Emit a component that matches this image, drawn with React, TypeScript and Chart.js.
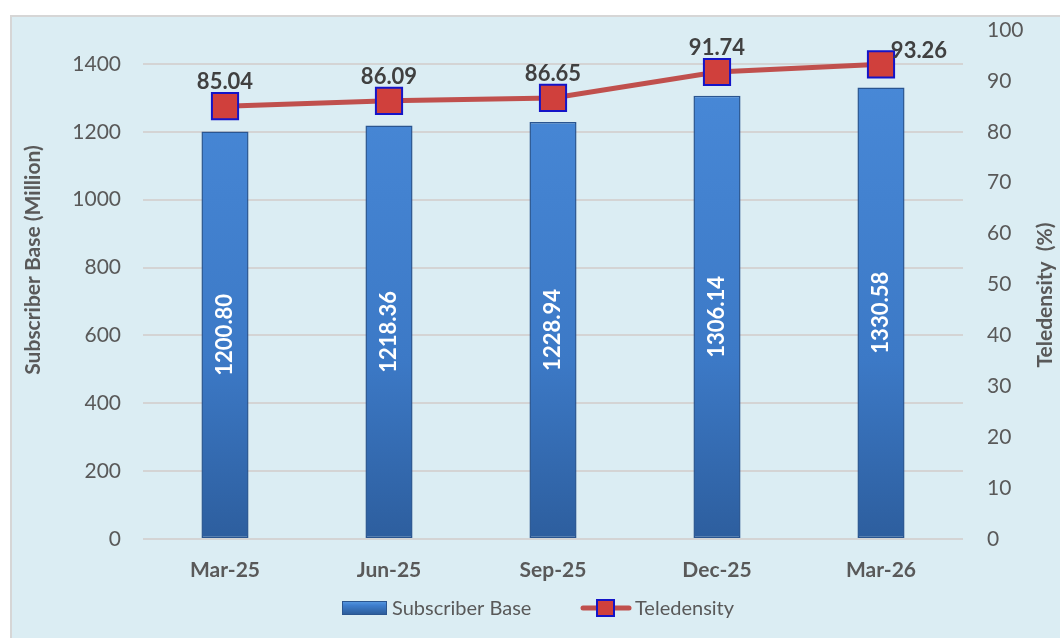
import React, { useEffect, useRef } from "react";
import { Chart, registerables } from "chart.js";

Chart.register(...registerables);

const categories = ["Mar-25", "Jun-25", "Sep-25", "Dec-25", "Mar-26"];
const subscriberBase = [1200.8, 1218.36, 1228.94, 1306.14, 1330.58];
const teledensity = [85.04, 86.09, 86.65, 91.74, 93.26];
const leftTitle = "Subscriber Base (Million)";
const rightTitle = "Teledensity  (%)";
const legendLabels = ["Subscriber Base", "Teledensity"];

const FONT = "Lato, 'Open Sans', sans-serif";
const TICK = "#595959";
const LABEL = "#404040";
const LINE = "#C0504D";
const MARK_FILL = "#D0403C";
const MARK_EDGE = "#1414C8";

const overlay = {
  id: "overlay",
  afterDatasetsDraw(chart: any) {
    const ctx = chart.ctx;
    const barMeta = chart.getDatasetMeta(1);
    ctx.save();
    ctx.fillStyle = "#FFFFFF";
    ctx.font = `bold 22px ${FONT}`;
    ctx.textAlign = "center";
    ctx.textBaseline = "middle";
    barMeta.data.forEach((bar: any, i: number) => {
      const cy = (bar.y + bar.base) / 2;
      ctx.save();
      ctx.translate(bar.x, cy);
      ctx.rotate(-Math.PI / 2);
      ctx.fillText(subscriberBase[i].toFixed(2), 0, 0);
      ctx.restore();
    });
    const lineMeta = chart.getDatasetMeta(0);
    ctx.fillStyle = LABEL;
    ctx.font = `bold 22px ${FONT}`;
    lineMeta.data.forEach((pt: any, i: number) => {
      const last = i === lineMeta.data.length - 1;
      const dx = last ? 38 : 0;
      const dy = last ? -13 : -24;
      ctx.fillText(teledensity[i].toFixed(2), pt.x + dx, pt.y + dy);
    });
    ctx.restore();
  },
  afterDraw(chart: any) {
    const ctx = chart.ctx;
    ctx.save();
    ctx.fillStyle = TICK;
    ctx.font = `bold 21px ${FONT}`;
    ctx.textAlign = "center";
    ctx.textBaseline = "middle";
    ctx.save();
    ctx.translate(21, 243);
    ctx.rotate(-Math.PI / 2);
    ctx.fillText(leftTitle, 0, 0);
    ctx.restore();
    ctx.save();
    ctx.translate(1033, 278);
    ctx.rotate(-Math.PI / 2);
    ctx.fillText(rightTitle, 0, 0);
    ctx.restore();

    const ly = 591;
    const bx = 330;
    const g = ctx.createLinearGradient(0, ly - 7, 0, ly + 7);
    g.addColorStop(0, "#5A9BE2");
    g.addColorStop(0.3, "#3F7FCF");
    g.addColorStop(1, "#2B5A96");
    ctx.fillStyle = g;
    ctx.fillRect(bx, ly - 7, 45, 14);
    ctx.strokeStyle = "#2B5690";
    ctx.lineWidth = 1;
    ctx.strokeRect(bx + 0.5, ly - 6.5, 44, 13);
    ctx.fillStyle = TICK;
    ctx.font = `20px ${FONT}`;
    ctx.textAlign = "left";
    ctx.fillText(legendLabels[0], bx + 50, ly + 1);

    const lx = 569;
    ctx.strokeStyle = LINE;
    ctx.lineWidth = 5;
    ctx.lineCap = "round";
    ctx.beginPath();
    ctx.moveTo(lx + 2, ly);
    ctx.lineTo(lx + 48, ly);
    ctx.stroke();
    ctx.fillStyle = MARK_FILL;
    ctx.fillRect(lx + 16, ly - 8, 17, 16);
    ctx.strokeStyle = MARK_EDGE;
    ctx.lineWidth = 2;
    ctx.strokeRect(lx + 16, ly - 8, 17, 16);
    ctx.fillStyle = TICK;
    ctx.fillText(legendLabels[1], lx + 54, ly + 1);
    ctx.restore();
  },
};

export default function App() {
  const ref = useRef<HTMLCanvasElement>(null);
  useEffect(() => {
    if (!ref.current) return;
    const chart = new Chart(ref.current, {
      type: "bar",
      data: {
        labels: categories,
        datasets: [
          {
            type: "line",
            label: legendLabels[1],
            data: teledensity,
            yAxisID: "y1",
            borderColor: LINE,
            borderWidth: 5,
            pointStyle: "rect",
            pointRadius: 18.5,
            pointBackgroundColor: MARK_FILL,
            pointBorderColor: MARK_EDGE,
            pointBorderWidth: 2,
            tension: 0,
            clip: false,
            order: 1,
          } as any,
          {
            type: "bar",
            label: legendLabels[0],
            data: subscriberBase,
            yAxisID: "y",
            backgroundColor: (c: any) => {
              const area = c.chart.chartArea;
              if (!area) return "#3F7FCF";
              const gr = c.chart.ctx.createLinearGradient(0, area.top, 0, area.bottom);
              gr.addColorStop(0, "#4A8BDA");
              gr.addColorStop(0.65, "#3C79C6");
              gr.addColorStop(1, "#2D5E9E");
              return gr;
            },
            borderColor: "#2A5590",
            borderWidth: 1.5,
            borderSkipped: false,
            categoryPercentage: 1,
            barPercentage: 0.287,
            order: 2,
          } as any,
        ],
      },
      options: {
        responsive: false,
        animation: false,
        devicePixelRatio: 1,
        layout: { autoPadding: false, padding: { top: 13, left: 0, right: 0, bottom: 0 } },
        plugins: {
          legend: { display: false },
          tooltip: { enabled: false },
        },
        scales: {
          x: {
            grid: { display: false, drawTicks: false },
            border: { display: false },
            ticks: {
              color: TICK,
              font: { family: FONT, size: 21, weight: "bold" },
              padding: 19,
              maxRotation: 0,
            },
            afterFit: (s: any) => {
              s.height = 99;
              s.paddingLeft = 0;
              s.paddingRight = 0;
            },
          },
          y: {
            position: "left",
            min: 0,
            max: 1500,
            grid: { color: "#D4D4D4", lineWidth: 2, drawTicks: false },
            border: { display: false },
            ticks: {
              stepSize: 200,
              includeBounds: false,
              color: TICK,
              font: { family: FONT, size: 21 },
              padding: 22,
              callback: (v: any) => String(v),
            },
            afterFit: (s: any) => {
              s.width = 131;
              s.paddingTop = 0;
              s.paddingBottom = 0;
            },
          },
          y1: {
            position: "right",
            min: 0,
            max: 100,
            grid: { display: false, drawTicks: false },
            border: { display: false },
            ticks: {
              stepSize: 10,
              color: TICK,
              font: { family: FONT, size: 21 },
              padding: 24,
              callback: (v: any) => String(v),
            },
            afterFit: (s: any) => {
              s.width = 97;
              s.paddingTop = 0;
              s.paddingBottom = 0;
            },
          },
        },
      },
      plugins: [overlay],
    });
    return () => chart.destroy();
  }, []);

  return (
    <div style={{ position: "absolute", left: 0, top: 0, width: 1060, height: 638, background: "#FFFFFF", overflow: "hidden" }}>
      <div
        style={{
          position: "absolute",
          left: 10,
          top: 15,
          width: 1050,
          height: 623,
          background: "#DBEDF3",
          borderLeft: "2px solid #D6D6D6",
          borderTop: "2px solid #D6D6D6",
          boxSizing: "border-box",
        }}
      >
        <canvas ref={ref} width={1048} height={621} style={{ display: "block" }} />
      </div>
    </div>
  );
}
